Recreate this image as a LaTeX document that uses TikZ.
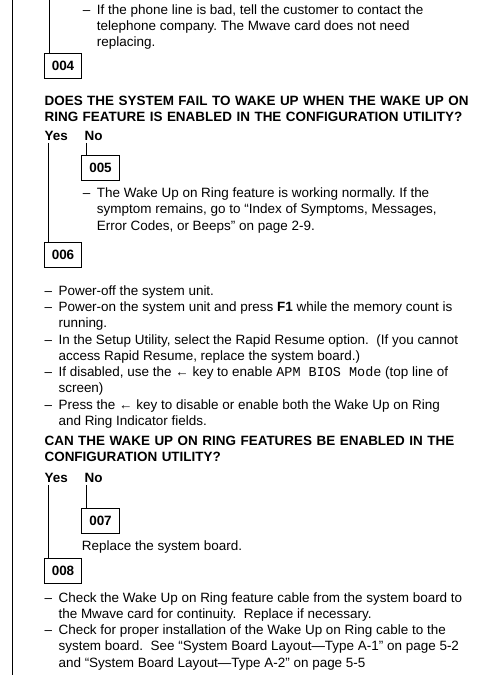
\documentclass[tikz,border=0pt]{standalone}
\usepackage{fontspec}
\setmainfont{Liberation Sans}
\setmonofont{Liberation Mono}
\usetikzlibrary{calc}
\frenchspacing

\newcommand\manfont{\fontsize{10.1pt}{12.2pt}\selectfont}
% bullet list: dash column, then the text
\newenvironment{dashlist}{\begin{tabular}[t]{@{}p{10.5pt}@{}l@{}}}{\end{tabular}}

\begin{document}
\begin{tikzpicture}[
  x=0.75pt, y=-0.75pt,
  every node/.style={font=\manfont},
  stepnum/.style={
    draw, line width=0.75pt, minimum width=28.1pt, minimum height=18.75pt,
    inner sep=0pt, font=\manfont\bfseries
  },
  txt/.style={anchor=base west, inner sep=0pt},
  quest/.style={txt, text width=340pt, align=left, font=\manfont\bfseries},
  yn/.style={anchor=base west, inner xsep=0pt, inner ysep=1.8pt, font=\manfont\bfseries},
  link/.style={line width=0.75pt}
]
  \useasboundingbox (0,0) rectangle (486,675);

  % end of the previous step
  \node[txt] (t003) at (82.7,14) {\begin{dashlist}
    – & If the phone line is bad, tell the customer to contact the\\
      & telephone company. The Mwave card does not need\\
      & replacing.
  \end{dashlist}};

  % step 004
  \node[stepnum] (b004) at (63,65.5) {004};
  \node[quest] (q004) at (44.3,105) {DOES THE SYSTEM FAIL TO WAKE UP WHEN THE WAKE UP ON\newline RING FEATURE IS ENABLED IN THE CONFIGURATION UTILITY?};
  \node[yn] (yes1) at (44.3,140) {Yes};
  \node[yn] (no1) at (84.3,140) {No};

  % step 005
  \node[stepnum] (b005) at (100.5,168.3) {005};
  \node[txt] (t005) at (82.7,197.7) {\begin{dashlist}
    – & The Wake Up on Ring feature is working normally. If the\\
      & symptom remains, go to “Index of Symptoms, Messages,\\
      & Error Codes, or Beeps” on page~2-9.
  \end{dashlist}};

  % step 006
  \node[stepnum] (b006) at (63,255) {006};
  \node[txt] (t006) at (44.3,295.3) {\begin{dashlist}
    – & Power-off the system unit.\\
    – & Power-on the system unit and press \textbf{F1} while the memory count is\\
      & running.\\
    – & In the Setup Utility, select the Rapid Resume option.\ \ (If you cannot\\
      & access Rapid Resume, replace the system board.)\\
    – & If disabled, use the ← key to enable \texttt{APM BIOS Mode} (top line of\\
      & screen)\\
    – & Press the ← key to disable or enable both the Wake Up on Ring\\
      & and Ring Indicator fields.
  \end{dashlist}};
  \node[quest] (q006) at (44.3,445) {CAN THE WAKE UP ON RING FEATURES BE ENABLED IN THE\newline CONFIGURATION UTILITY?};
  \node[yn] (yes2) at (44.3,482) {Yes};
  \node[yn] (no2) at (84.3,482) {No};

  % step 007
  \node[stepnum] (b007) at (100.5,521) {007};
  \node[txt] (t007) at (81.7,550) {Replace the system board.};

  % step 008
  \node[stepnum] (b008) at (63,570.5) {008};
  \node[txt] (t008) at (44.3,602) {\begin{dashlist}
    – & Check the Wake Up on Ring feature cable from the system board to\\
      & the Mwave card for continuity.\ \ Replace if necessary.\\
    – & Check for proper installation of the Wake Up on Ring cable to the\\
      & system board.\ \ See “System Board Layout—Type A-1” on page~5-2\\
      & and “System Board Layout—Type A-2” on page~5-5
  \end{dashlist}};

  % left rule and flow lines
  \coordinate (pagetop) at (12,0);
  \coordinate (pagebot) at (12,675);
  \coordinate (from003) at (49,0);
  \draw[link] (pagetop) -- (pagebot);
  \draw[link] (from003) -- (from003 |- b004.north);
  \draw[link] let \p1=(b005.north west), \p2=(no1.south) in ({\x1+3.7pt},\y2) -- ({\x1+3.7pt},\y1);
  \draw[link] let \p1=(b006.north west), \p2=(yes1.south) in ({\x1+3.7pt},\y2) -- ({\x1+3.7pt},\y1);
  \draw[link] let \p1=(b007.north west), \p2=(no2.south) in ({\x1+3.7pt},\y2) -- ({\x1+3.7pt},\y1);
  \draw[link] let \p1=(b008.north west), \p2=(yes2.south) in ({\x1+3.7pt},\y2) -- ({\x1+3.7pt},\y1);
\end{tikzpicture}
\end{document}
